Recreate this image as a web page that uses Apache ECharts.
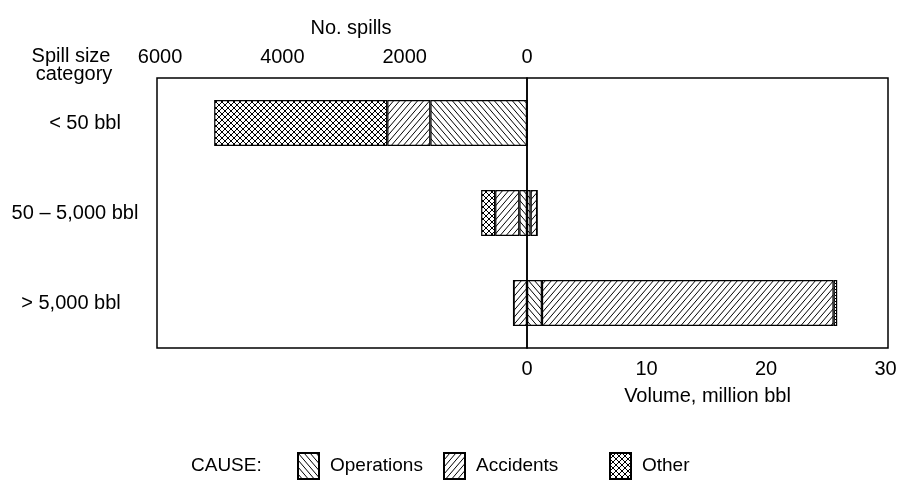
<!DOCTYPE html>
<html>
<head>
<meta charset="utf-8">
<script src="https://cdn.jsdelivr.net/npm/echarts@6/dist/echarts.min.js"></script>
<style>
html,body{margin:0;padding:0;background:#fff;}
#chart{width:905px;height:486px;}
</style>
</head>
<body>
<div id="chart"></div>
<script>
// ---- data ----
const categories = ['< 50 bbl', '50 \u2013 5,000 bbl', '> 5,000 bbl'];
const causes = ['Operations', 'Accidents', 'Other'];
// number of spills (top axis, drawn leftward)
const spillsOperations = [1580, 125, 0];
const spillsAccidents  = [705, 395, 220];
const spillsOther      = [2830, 230, 0];
// volume, million bbl (bottom axis, drawn rightward)
const volumeOperations = [0, 0.3, 1.25];
const volumeAccidents  = [0, 0.55, 24.4];
const volumeOther      = [0, 0, 0.3];
const spillTicks = [0, 2000, 4000, 6000];
const volumeTicks = [0, 10, 20, 30];

// ---- patterns ----
function hatch(kind, w, h) {
  const c = document.createElement('canvas');
  c.width = w; c.height = h;
  const ctx = c.getContext('2d');
  ctx.fillStyle = '#fff';
  ctx.fillRect(0, 0, w, h);
  ctx.strokeStyle = '#000';
  ctx.lineWidth = 1;
  ctx.beginPath();
  for (let k = -1; k <= 1; k++) {
    if (kind === 'back' || kind === 'cross') {
      ctx.moveTo(k * w, 0); ctx.lineTo(k * w + w, h);
    }
    if (kind === 'fwd' || kind === 'cross') {
      ctx.moveTo(k * w, h); ctx.lineTo(k * w + w, 0);
    }
  }
  ctx.stroke();
  return { image: c, repeat: 'repeat' };
}
const fills = {
  Operations: hatch('back', 6, 7),
  Accidents: hatch('fwd', 6, 7),
  Other: hatch('cross', 6, 6)
};

const FONT = "'Liberation Sans', Arial, sans-serif";
const FS = 20;
const LFS = 19;
const G0 = { left: 157, top: 78, width: 370, height: 270 };
const G1 = { left: 527, top: 78, width: 361, height: 270 };

const spillData = { Operations: spillsOperations, Accidents: spillsAccidents, Other: spillsOther };
const volData = { Operations: volumeOperations, Accidents: volumeAccidents, Other: volumeOther };

const series = [];
causes.forEach(name => {
  series.push({
    name, type: 'bar', stack: 'spills', xAxisIndex: 0, yAxisIndex: 0,
    data: spillData[name], barWidth: 46, animation: false,
    itemStyle: { color: fills[name], borderColor: '#000', borderWidth: 1.2 }
  });
});
causes.forEach(name => {
  series.push({
    name, type: 'bar', stack: 'volume', xAxisIndex: 1, yAxisIndex: 1,
    data: volData[name], barWidth: 46, animation: false,
    itemStyle: { color: fills[name], borderColor: '#000', borderWidth: 1.2 }
  });
});

const legendLefts = { Operations: 297, Accidents: 443, Other: 609 };
const legends = causes.map(name => ({
  data: [name], left: legendLefts[name], top: 452, padding: 0, orient: 'horizontal',
  icon: 'rect', itemWidth: 21, itemHeight: 26, selectedMode: false,
  textStyle: { fontFamily: FONT, fontSize: LFS, color: '#000', padding: [4, 0, 0, 6] }
}));

const labelShift = { 0: 'r', 1: 'c', 2: 'l' };

const chart = echarts.init(document.getElementById('chart'), null, { renderer: 'canvas' });
chart.setOption({
  backgroundColor: '#fff',
  animation: false,
  textStyle: { fontFamily: FONT, color: '#000' },
  grid: [
    Object.assign({ show: true, borderColor: '#000', borderWidth: 1.5, backgroundColor: 'transparent' }, G0),
    Object.assign({ show: true, borderColor: '#000', borderWidth: 1.5, backgroundColor: 'transparent' }, G1)
  ],
  xAxis: [
    {
      gridIndex: 0, type: 'value', position: 'top', inverse: true,
      min: spillTicks[0], max: 6050, interval: spillTicks[1] - spillTicks[0],
      axisLine: { show: false }, axisTick: { show: false }, splitLine: { show: false },
      axisLabel: { fontFamily: FONT, fontSize: FS, color: '#000', margin: 11,
        formatter: v => spillTicks.includes(v) ? String(v) : '' },
      name: 'No. spills', nameLocation: 'middle', nameGap: 40,
      nameTextStyle: { fontFamily: FONT, fontSize: FS, color: '#000', padding: [0, 0, 0, 18] }
    },
    {
      gridIndex: 1, type: 'value', position: 'bottom',
      min: volumeTicks[0], max: 30.2, interval: volumeTicks[1] - volumeTicks[0],
      axisLine: { show: false }, axisTick: { show: false }, splitLine: { show: false },
      axisLabel: { fontFamily: FONT, fontSize: FS, color: '#000', margin: 11,
        formatter: v => volumeTicks.includes(v) ? String(v) : '' },
      name: 'Volume, million bbl', nameLocation: 'middle', nameGap: 38,
      nameTextStyle: { fontFamily: FONT, fontSize: FS, color: '#000' }
    }
  ],
  yAxis: [
    {
      gridIndex: 0, type: 'category', data: categories, inverse: true,
      axisLine: { show: false }, axisTick: { show: false },
      axisLabel: {
        fontFamily: FONT, fontSize: FS, color: '#000', align: 'center', margin: 82,
        formatter: (v, i) => '{' + labelShift[i] + '|' + v + '}',
        rich: {
          r: { fontFamily: FONT, fontSize: FS, color: '#000', padding: [0, 0, 0, 20] },
          c: { fontFamily: FONT, fontSize: FS, color: '#000' },
          l: { fontFamily: FONT, fontSize: FS, color: '#000', padding: [0, 8, 0, 0] }
        }
      }
    },
    {
      gridIndex: 1, type: 'category', data: categories, inverse: true, show: false
    }
  ],
  legend: legends,
  graphic: [
    { type: 'text', x: 71, y: 56, style: { text: 'Spill size', font: FS + "px " + FONT, fill: '#000', textAlign: 'center', textVerticalAlign: 'middle' } },
    { type: 'text', x: 74, y: 74, style: { text: 'category', font: FS + "px " + FONT, fill: '#000', textAlign: 'center', textVerticalAlign: 'middle' } },
    { type: 'text', x: 191, y: 466, style: { text: 'CAUSE:', font: LFS + "px " + FONT, fill: '#000', textAlign: 'left', textVerticalAlign: 'middle' } }
  ],
  series
});
</script>
</body>
</html>
